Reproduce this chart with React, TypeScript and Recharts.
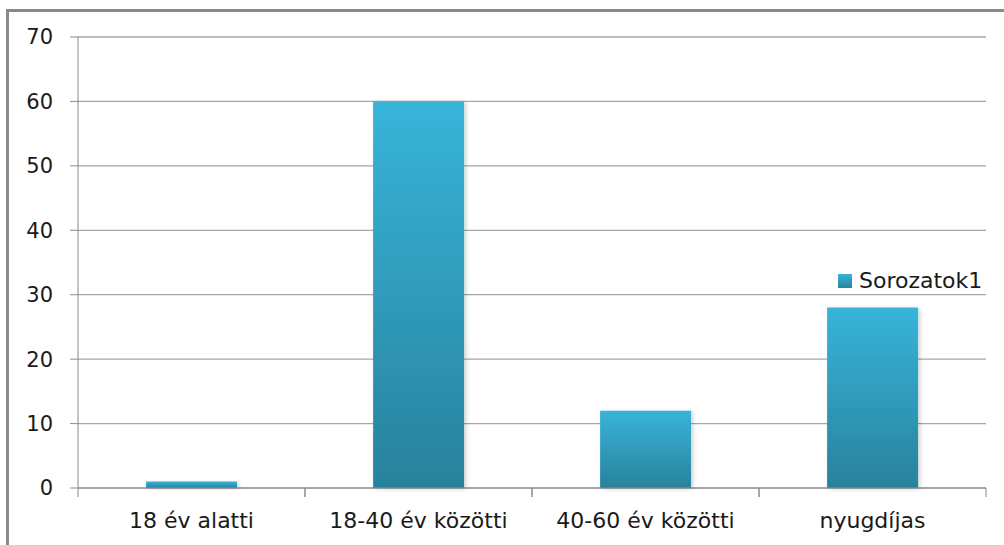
import React from "react";
import { BarChart, Bar, XAxis, YAxis, CartesianGrid } from "recharts";

const categories = ["18 év alatti", "18-40 év közötti", "40-60 év közötti", "nyugdíjas"];
const values = [1, 60, 12, 28];
const yTicks = [0, 10, 20, 30, 40, 50, 60, 70];
const seriesName = "Sorozatok1";

const data = categories.map((name, i) => ({ name, value: values[i] }));

const FONT = "'DejaVu Sans', sans-serif";
const BAND = 227;

// category ticks sit on the boundaries, like Excel does it
function CategoryTick(props: any) {
  const { x, y, payload } = props;
  return (
    <g>
      <line x1={x - BAND / 2} y1={y - 8} x2={x - BAND / 2} y2={y + 1} stroke="#8c8c8c" />
      <line x1={x + BAND / 2} y1={y - 8} x2={x + BAND / 2} y2={y + 1} stroke="#8c8c8c" />
      <text x={x} y={y + 32} textAnchor="middle" fill="#1a1a1a" fontSize={22} fontFamily={FONT}>
        {payload.value}
      </text>
    </g>
  );
}

function LegendBox() {
  return (
    <div
      style={{
        position: "absolute",
        left: 838,
        top: 266,
        display: "flex",
        alignItems: "center",
        fontFamily: FONT,
        fontSize: 22,
        lineHeight: "30px",
        color: "#1a1a1a",
      }}
    >
      <span
        style={{
          display: "inline-block",
          width: 14,
          height: 14,
          marginRight: 7,
          background: "linear-gradient(#38b4da, #29849e)",
        }}
      />
      {seriesName}
    </div>
  );
}

export default function App() {
  return (
    <div style={{ position: "absolute", left: 0, top: 0, width: 1004, height: 545, background: "#fff" }}>
      <div
        style={{
          position: "absolute",
          left: 6,
          top: 9,
          right: 0,
          bottom: 0,
          borderTop: "3px solid #8a8a8a",
          borderLeft: "3px solid #8a8a8a",
        }}
      />
      <div style={{ position: "absolute", left: 0, top: 0 }}>
        <BarChart
          width={1004}
          height={545}
          data={data}
          margin={{ top: 37, right: 18, bottom: 0, left: 0 }}
          barCategoryGap="30%"
        >
          <defs>
            <linearGradient id="barFill" x1="0" y1="0" x2="0" y2="1">
              <stop offset="0%" stopColor="#38b4da" />
              <stop offset="100%" stopColor="#28829c" />
            </linearGradient>
            <filter id="barShadow" x="-10%" y="-10%" width="130%" height="130%">
              <feDropShadow dx="2" dy="1" stdDeviation="2" floodColor="#000" floodOpacity="0.18" />
            </filter>
          </defs>
          <CartesianGrid vertical={false} stroke="#a6a6a6" strokeWidth={1.3} />
          <XAxis
            dataKey="name"
            height={57}
            axisLine={{ stroke: "#8c8c8c" }}
            tickLine={false}
            tick={<CategoryTick />}
            interval={0}
          />
          <YAxis
            width={78}
            domain={[0, 70]}
            ticks={yTicks}
            axisLine={{ stroke: "#8c8c8c" }}
            tickLine={{ stroke: "#8c8c8c" }}
            tickSize={8}
            tickMargin={17}
            tick={{ fill: "#1a1a1a", fontSize: 21, fontFamily: FONT }}
          />
          <Bar
            dataKey="value"
            name={seriesName}
            fill="url(#barFill)"
            filter="url(#barShadow)"
            isAnimationActive={false}
          />
        </BarChart>
      </div>
      <LegendBox />
    </div>
  );
}
